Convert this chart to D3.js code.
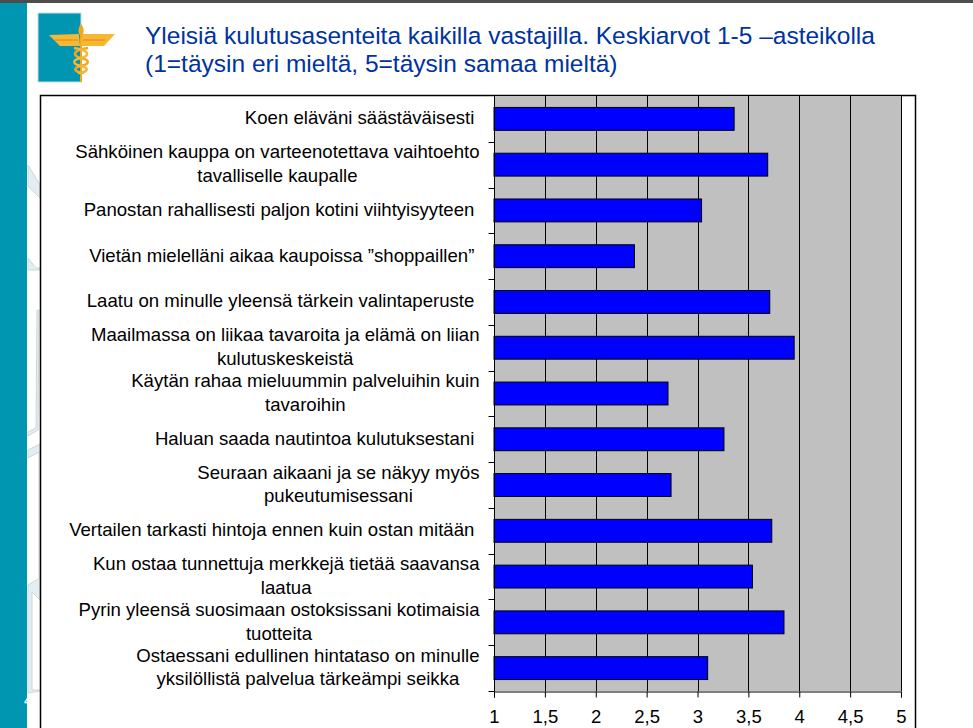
<!DOCTYPE html>
<html><head><meta charset="utf-8">
<script src="https://cdn.jsdelivr.net/npm/d3@7"></script>
<style>html,body{margin:0;padding:0;background:#fff}svg{display:block}text{font-family:"Liberation Sans",Arial,sans-serif}</style>
</head><body><svg id="c" width="973" height="728"></svg>
<script>
const categories=[
"Koen eläväni säästäväisesti ",
"Sähköinen kauppa on varteenotettava vaihtoehto|tavalliselle kaupalle",
"Panostan rahallisesti paljon kotini viihtyisyyteen ",
"Vietän mielelläni aikaa kaupoissa ”shoppaillen” ",
"Laatu on minulle yleensä tärkein valintaperuste ",
"Maailmassa on liikaa tavaroita ja elämä on liian|kulutuskeskeistä",
"Käytän rahaa mieluummin palveluihin kuin|tavaroihin",
"Haluan saada nautintoa kulutuksestani ",
"Seuraan aikaani ja se näkyy myös|pukeutumisessani",
"Vertailen tarkasti hintoja ennen kuin ostan mitään ",
"Kun ostaa tunnettuja merkkejä tietää saavansa|laatua",
"Pyrin yleensä suosimaan ostoksissani kotimaisia|tuotteita",
"Ostaessani edullinen hintataso on minulle|yksilöllistä palvelua tärkeämpi seikka"];
const values=[3.36,3.69,3.04,2.38,3.71,3.95,2.71,3.26,2.74,3.73,3.54,3.85,3.10];
const ticks=[1,1.5,2,2.5,3,3.5,4,4.5,5];
const titleLines=["Yleisiä kulutusasenteita kaikilla vastajilla. Keskiarvot 1-5 –asteikolla","(1=täysin eri mieltä, 5=täysin samaa mieltä)"];
const LABEL=18.6;

const svg=d3.select("#c");
function measure(s){const n=svg.append("text").attr("font-size",LABEL).attr("xml:space","preserve").text(s);const w=n.node().getComputedTextLength();n.remove();return w}
// slide background
svg.append("rect").attr("x",0).attr("y",0).attr("width",973).attr("height",3).attr("fill","#4d4d4d");
const deco=svg.append("g").attr("fill","#e2eef1").attr("stroke","#cfd6d8").attr("stroke-width",1);
deco.append("path").attr("d","M28 165L40 185L40 198L28 186Z");
deco.append("path").attr("d","M28 258L36 268L40 268L40 270L28 270Z");
deco.append("path").attr("d","M39 310L38 430L28 436L28 432L36 428L37 310Z");
deco.append("path").attr("d","M28 450L40 444L40 590L39 590L39 452L28 458Z");
deco.append("path").attr("d","M28 585L40 578L40 600L32 592L32 690L40 690L40 691L28 693L28 590Z");
svg.append("rect").attr("x",0).attr("y",3).attr("width",27).attr("height",725).attr("fill","#0095b0");
svg.append("text").attr("x",24).attr("y",706).attr("font-size",16).attr("fill","#fff").text("4");

// logo
const logo=svg.append("g");
logo.append("rect").attr("x",38).attr("y",13).attr("width",43).attr("height",69).attr("fill","#0095b0").attr("stroke","#bfe0e6");
logo.append("rect").attr("x",80).attr("y",28).attr("width",2).attr("height",54).attr("fill","#f2a71f");
logo.append("path").attr("d","M49 35L79 34L80 46L60 46Z M115 34L82 34L81 46L104 46Z").attr("fill","#f7b733");
logo.append("path").attr("d","M55 40L78 40M105 40L83 40").attr("stroke","#d98a12").attr("stroke-width",1);
logo.append("path").attr("d","M81 24C77 29 78 34 81 36C84 34 85 29 81 24Z").attr("fill","#f2a71f");
logo.append("path").attr("d","M88 48C72 50 72 56 81 58C90 60 90 64 81 66C72 68 74 72 84 73").attr("fill","none").attr("stroke","#f2a71f").attr("stroke-width",2.5);
logo.append("path").attr("d","M74 48C90 50 90 56 81 58C72 60 72 64 81 66C90 68 88 72 78 73").attr("fill","none").attr("stroke","#f7b733").attr("stroke-width",2.5);

// title
svg.append("g").selectAll("text").data(titleLines).join("text")
 .attr("x",145).attr("y",(d,i)=>44+i*28).attr("font-size",24.5).attr("fill","#0033a0").text(d=>d);

// chart frame
svg.append("rect").attr("x",40.5).attr("y",95.5).attr("width",875).attr("height",640).attr("fill","#fff").attr("stroke","#000").attr("stroke-width",1.5);

const x=d3.scaleLinear().domain([1,5]).range([494,901]);
const y=d3.scaleBand().domain(categories).range([96,691]).paddingInner(0.5).paddingOuter(0.25);
const yb=d3.scaleBand().domain(categories).range([96,691]);

svg.append("rect").attr("x",x(1)).attr("y",96).attr("width",x(5)-x(1)).attr("height",595).attr("fill","#c0c0c0");
svg.append("g").selectAll("line").data(ticks.slice(1)).join("line")
 .attr("x1",d=>Math.round(x(d))+.5).attr("x2",d=>Math.round(x(d))+.5).attr("y1",96).attr("y2",691).attr("stroke","#000");
svg.append("g").selectAll("rect").data(values).join("rect")
 .attr("x",x(1)).attr("y",(d,i)=>y(categories[i])).attr("width",d=>x(d)-x(1)).attr("height",y.bandwidth())
 .attr("fill","#0000ff").attr("stroke","#000").attr("stroke-width",1);

// y axis
const gy=svg.append("g").attr("transform","translate(494.5,0)");
gy.append("line").attr("y1",96).attr("y2",691.5).attr("stroke","#000");
gy.selectAll("line.t").data(categories).join("line").attr("class","t")
 .attr("x1",-6).attr("x2",0).attr("y1",d=>Math.round(yb(d)+yb.bandwidth())+.5).attr("y2",d=>Math.round(yb(d)+yb.bandwidth())+.5).attr("stroke","#000");
categories.forEach(c=>{
 const ls=c.split("|"), cy=yb(c)+yb.bandwidth()/2;
 const w=Math.max(...ls.map(measure));
 const t=svg.append("text").attr("text-anchor","middle").attr("font-size",LABEL).attr("fill","#000").attr("xml:space","preserve");
 ls.forEach((l,i)=>{
  t.append("tspan").attr("x",479.5-w/2).attr("y",cy+(i-(ls.length-1)/2)*23.5+5.5).text(l);
 });
});

// x axis
const gx=svg.append("g").attr("transform","translate(0,691.5)");
gx.call(d3.axisBottom(x).tickValues(ticks).tickSize(6).tickPadding(12).tickFormat(d=>String(d).replace(".",",")));
gx.select(".domain").attr("stroke","#000");
gx.selectAll("text").attr("font-size",18.5).attr("font-family",'"Liberation Sans"').attr("fill","#000");
</script></body></html>
